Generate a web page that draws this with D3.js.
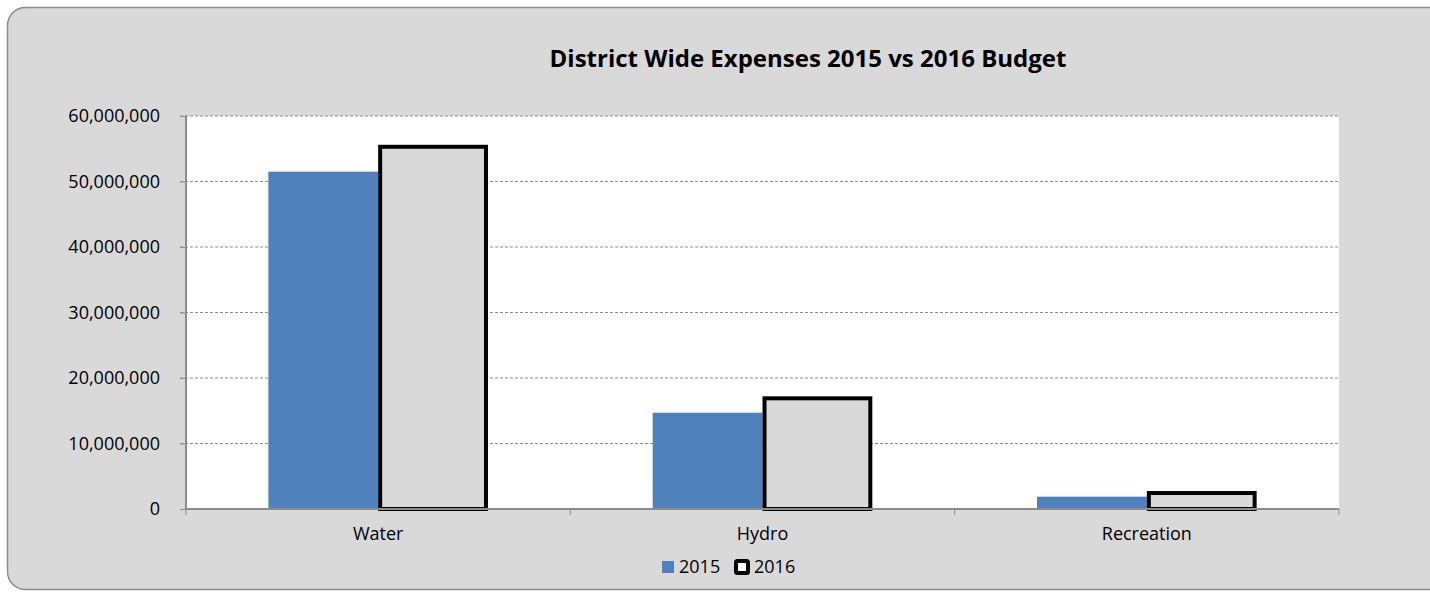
<!DOCTYPE html>
<html>
<head>
<meta charset="utf-8">
<script src="https://d3js.org/d3.v7.min.js"></script>
<style>
  body { margin: 0; background: #fff; }
  svg { display: block; font-family: "Open Sans", sans-serif; }
</style>
</head>
<body>
<svg id="chart" width="1430" height="592"></svg>
<script>
// data
var categories = ["Water", "Hydro", "Recreation"];
var seriesNames = ["2015", "2016"];
var values2015 = [51500000, 14700000, 1880000];
var values2016 = [55300000, 16900000, 2440000];
var yTicks = [0, 10000000, 20000000, 30000000, 40000000, 50000000, 60000000];

var svg = d3.select("#chart"),
    margin = {top: 116, right: 91, bottom: 83, left: 186},
    width = +svg.attr("width") - margin.left - margin.right,
    height = +svg.attr("height") - margin.top - margin.bottom;

var fontFam = "'Open Sans', sans-serif";

// outer frame
svg.append("rect")
    .attr("x", 7.5).attr("y", 7.5)
    .attr("width", 1460).attr("height", 582)
    .attr("rx", 18).attr("ry", 18)
    .attr("fill", "#d9d9d9")
    .attr("stroke", "#8c8c8c")
    .attr("stroke-width", 1.5);

var g = svg.append("g")
    .attr("transform", "translate(" + margin.left + "," + margin.top + ")");

var x0 = d3.scaleBand().domain(categories).range([0, width]).paddingInner(0).paddingOuter(0);
var x1 = d3.scaleBand().domain(seriesNames).range([0, x0.bandwidth()]).paddingInner(0).paddingOuter(0.75);
var y = d3.scaleLinear().domain([0, 60000000]).range([height, 0]);

// plot background
g.append("rect")
    .attr("width", width).attr("height", height)
    .attr("fill", "#fff");

// gridlines
g.append("g")
    .selectAll("line")
    .data(yTicks.slice(1))
    .enter().append("line")
    .attr("x1", -6).attr("x2", width)
    .attr("y1", function (d) { return y(d); })
    .attr("y2", function (d) { return y(d); })
    .attr("stroke", "#8c8c8c")
    .attr("stroke-dasharray", "3,2");

// y axis
var yAxis = d3.axisLeft(y)
    .tickValues(yTicks)
    .tickSize(6)
    .tickPadding(20)
    .tickFormat(d3.format(",d"));
var ya = g.append("g").attr("class", "y axis").call(yAxis)
    .attr("font-family", fontFam).attr("font-size", 18);
ya.select(".domain").attr("stroke", "#8c8c8c").attr("stroke-width", 2).attr("d", "M0," + height + "V0");
ya.selectAll(".tick line").attr("stroke", "#8c8c8c");
ya.selectAll("text").attr("fill", "#000");

var data = categories.map(function (c, i) {
    return {cat: c, vals: [
        {key: "2015", v: values2015[i]},
        {key: "2016", v: values2016[i]}
    ]};
});

var groups = g.selectAll(".grp")
    .data(data)
    .enter().append("g")
    .attr("class", "grp")
    .attr("transform", function (d) { return "translate(" + x0(d.cat) + ",0)"; });

groups.selectAll("rect")
    .data(function (d) { return d.vals; })
    .enter().append("rect")
    .attr("x", function (d) { return x1(d.key) + (d.key === "2016" ? 2 : 0); })
    .attr("y", function (d) { return y(d.v); })
    .attr("width", function (d) { return x1.bandwidth() - (d.key === "2016" ? 4 : 0); })
    .attr("height", function (d) { return height - y(d.v); })
    .attr("fill", function (d) { return d.key === "2015" ? "#4f81bd" : "#d9d9d9"; })
    .attr("stroke", function (d) { return d.key === "2015" ? "none" : "#000"; })
    .attr("stroke-width", 4);

// x axis
var xAxis = d3.axisBottom(x0).tickSize(0).tickPadding(18);
var xa = g.append("g")
    .attr("class", "x axis")
    .attr("transform", "translate(0," + height + ")")
    .call(xAxis)
    .attr("font-family", fontFam).attr("font-size", 18);
xa.select(".domain").attr("stroke", "#8c8c8c").attr("stroke-width", 2).attr("d", "M0,0H" + width);
xa.selectAll("text").attr("fill", "#000");
xa.selectAll(".sep")
    .data(d3.range(categories.length + 1))
    .enter().append("line")
    .attr("class", "sep")
    .attr("x1", function (i) { return i * x0.bandwidth(); })
    .attr("x2", function (i) { return i * x0.bandwidth(); })
    .attr("y1", 0).attr("y2", 6)
    .attr("stroke", "#8c8c8c");

// title
svg.append("text")
    .attr("x", 808).attr("y", 67)
    .attr("text-anchor", "middle")
    .attr("font-size", 24)
    .attr("font-weight", "bold")
    .text("District Wide Expenses 2015 vs 2016 Budget");

// legend
var legend = svg.append("g").attr("transform", "translate(662,567)");
legend.append("rect").attr("x", 0).attr("y", -6).attr("width", 12).attr("height", 12).attr("fill", "#4f81bd");
legend.append("text").attr("x", 17).attr("y", 6).attr("font-size", 18).text("2015");
legend.append("rect").attr("x", 74).attr("y", -6).attr("width", 12).attr("height", 12)
    .attr("fill", "#fff").attr("stroke", "#000").attr("stroke-width", 4).attr("rx", 1.5);
legend.append("text").attr("x", 92).attr("y", 6).attr("font-size", 18).text("2016");
</script>
</body>
</html>
